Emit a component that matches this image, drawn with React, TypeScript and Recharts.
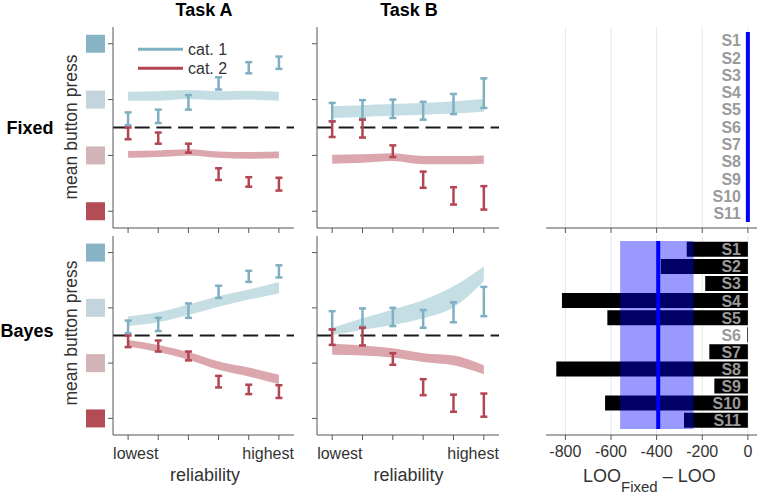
import React from "react";
import {
  ComposedChart,
  BarChart,
  Bar,
  Area,
  Scatter,
  ErrorBar,
  XAxis,
  YAxis,
  ReferenceLine,
  ReferenceArea,
  CartesianGrid,
} from "recharts";

const FONT = "'Liberation Sans', Arial, Helvetica, sans-serif";

// reliability levels (lowest .. highest) and button-press levels
const reliability = [1, 2, 3, 4, 5, 6];
const pressTicks = [1, 2, 3, 4];
const pressColors = ["#b44c55", "#d3b5b9", "#c3d4dd", "#88b4c6"];

// observed data (error bars), shared by both models
const taskABlueLo = [2.54, 2.58, 2.82, 3.18, 3.47, 3.55];
const taskABlueHi = [2.77, 2.82, 3.08, 3.4, 3.67, 3.77];
const taskARedLo = [2.29, 2.21, 2.05, 1.56, 1.44, 1.37];
const taskARedHi = [2.5, 2.41, 2.21, 1.77, 1.61, 1.6];
const taskBBlueLo = [2.61, 2.66, 2.67, 2.64, 2.74, 2.85];
const taskBBlueHi = [2.94, 2.99, 3.0, 2.96, 3.1, 3.38];
const taskBRedLo = [2.33, 2.32, 1.97, 1.42, 1.12, 1.03];
const taskBRedHi = [2.61, 2.64, 2.18, 1.71, 1.43, 1.45];

// model fits (bands)
const fixedABlueLo = [2.98, 2.98, 3.01, 2.99, 3.0, 2.98];
const fixedABlueHi = [3.14, 3.15, 3.17, 3.15, 3.16, 3.14];
const fixedARedLo = [1.96, 1.97, 2.0, 1.96, 1.94, 1.95];
const fixedARedHi = [2.08, 2.09, 2.11, 2.07, 2.06, 2.07];
const fixedBBlueLo = [2.67, 2.69, 2.71, 2.73, 2.75, 2.78];
const fixedBBlueHi = [2.88, 2.9, 2.92, 2.94, 2.97, 3.01];
const fixedBRedLo = [1.85, 1.87, 1.9, 1.84, 1.84, 1.85];
const fixedBRedHi = [2.01, 2.02, 2.04, 1.99, 1.99, 2.0];
const bayesABlueLo = [2.67, 2.74, 2.87, 3.02, 3.15, 3.26];
const bayesABlueHi = [2.85, 2.92, 3.06, 3.21, 3.33, 3.47];
const bayesARedLo = [2.3, 2.2, 2.06, 1.88, 1.76, 1.62];
const bayesARedHi = [2.42, 2.33, 2.2, 2.03, 1.92, 1.79];
const bayesBBlueLo = [2.51, 2.6, 2.69, 2.81, 3.01, 3.48];
const bayesBBlueHi = [2.64, 2.81, 2.97, 3.14, 3.39, 3.75];
const bayesBRedLo = [2.15, 2.14, 2.1, 2.02, 1.96, 1.8];
const bayesBRedHi = [2.35, 2.32, 2.27, 2.18, 2.14, 1.96];

// model comparison
const subjects = ["S1", "S2", "S3", "S4", "S5", "S6", "S7", "S8", "S9", "S10", "S11"];
const looFixed = [0, 0, 0, 0, 0, 0, 0, 0, 0, 0, 0];
const looBayes = [-268, -382, -187, -815, -616, -3, -169, -840, -147, -626, -280];
const looBayesMean = -393;
const looBayesCi = [-560, -238];
const looTicks = [-800, -600, -400, -200, 0];
const legendItems = ["cat. 1", "cat. 2"];

const BLUE_ERR = "#7fafc2";
const RED_ERR = "#b34652";
const BLUE_BAND = "#c5dee4";
const RED_BAND = "#dba6ac";
const AXIS = "#555";

function buildRows(bLo, bHi, rLo, rHi, obLo, obHi, orLo, orHi) {
  return reliability.map((r, i) => ({
    r,
    blueBand: [bLo[i], bHi[i]],
    redBand: [rLo[i], rHi[i]],
    blueMid: (obLo[i] + obHi[i]) / 2,
    blueErr: (obHi[i] - obLo[i]) / 2,
    redMid: (orLo[i] + orHi[i]) / 2,
    redErr: (orHi[i] - orLo[i]) / 2,
  }));
}

const fixedA = buildRows(fixedABlueLo, fixedABlueHi, fixedARedLo, fixedARedHi, taskABlueLo, taskABlueHi, taskARedLo, taskARedHi);
const fixedB = buildRows(fixedBBlueLo, fixedBBlueHi, fixedBRedLo, fixedBRedHi, taskBBlueLo, taskBBlueHi, taskBRedLo, taskBRedHi);
const bayesA = buildRows(bayesABlueLo, bayesABlueHi, bayesARedLo, bayesARedHi, taskABlueLo, taskABlueHi, taskARedLo, taskARedHi);
const bayesB = buildRows(bayesBBlueLo, bayesBBlueHi, bayesBRedLo, bayesBRedHi, taskBBlueLo, taskBBlueHi, taskBRedLo, taskBRedHi);

const EmptyShape = () => <g />;
const NoTick = () => <g />;

function SquareTick(props) {
  const { x, y, payload } = props;
  const idx = pressTicks.indexOf(payload.value);
  return <rect x={x - 19} y={y - 9} width={19} height={18} fill={pressColors[idx]} />;
}

function ReliabilityTick(props) {
  const { x, y, payload } = props;
  if (payload.value === reliability[0]) {
    return (
      <text x={x - 15} y={y} dy="0.71em" textAnchor="start" fill="#333" fontSize={16}>
        lowest
      </text>
    );
  }
  if (payload.value === reliability[reliability.length - 1]) {
    return (
      <text x={x + 15} y={y} dy="0.71em" textAnchor="end" fill="#333" fontSize={16}>
        highest
      </text>
    );
  }
  return <g />;
}

function PsychPanel({ data, left, top, width, height, margin, squares, xLabels }) {
  return (
    <div style={{ position: "absolute", left, top, width, height }}>
      <ComposedChart width={width} height={height} data={data} margin={margin}>
        <XAxis
          dataKey="r"
          type="number"
          domain={[0.5, 6.5]}
          ticks={reliability}
          height={xLabels ? 59 : 12}
          tickSize={5}
          tickMargin={8}
          stroke={AXIS}
          tick={xLabels ? <ReliabilityTick /> : <NoTick />}
        />
        <YAxis
          type="number"
          domain={[0.7, 4.3]}
          allowDataOverflow
          ticks={pressTicks}
          width={squares ? 40 : 10}
          tickSize={5}
          tickMargin={3}
          stroke={AXIS}
          tick={squares ? <SquareTick /> : <NoTick />}
        />
        <Area type="monotone" dataKey="blueBand" stroke="none" fill={BLUE_BAND} fillOpacity={1} isAnimationActive={false} dot={false} activeDot={false} />
        <Area type="monotone" dataKey="redBand" stroke="none" fill={RED_BAND} fillOpacity={1} isAnimationActive={false} dot={false} activeDot={false} />
        <ReferenceLine y={2.5} stroke="#1a1a1a" strokeWidth={2} strokeDasharray="15 6.7" />
        <Scatter dataKey="blueMid" shape={EmptyShape} isAnimationActive={false}>
          <ErrorBar dataKey="blueErr" direction="y" width={3.5} strokeWidth={2.5} stroke={BLUE_ERR} isAnimationActive={false} />
        </Scatter>
        <Scatter dataKey="redMid" shape={EmptyShape} isAnimationActive={false}>
          <ErrorBar dataKey="redErr" direction="y" width={3.5} strokeWidth={2.5} stroke={RED_ERR} isAnimationActive={false} />
        </Scatter>
      </ComposedChart>
    </div>
  );
}

function SubjectTick(props) {
  const { x, y, payload } = props;
  return (
    <text x={x} y={y} dy="0.36em" textAnchor="end" fill="#9a9a9a" fontSize={16} fontWeight="bold">
      {payload.value}
    </text>
  );
}

function LooPanel({ values, left, top, height, margin, xLabels, band, mean }) {
  const data = subjects.map((s, i) => ({ subject: s, diff: values[i] }));
  const halfLine = 8.8;
  return (
    <div style={{ position: "absolute", left, top, width: 240, height }}>
      <BarChart width={240} height={height} data={data} layout="vertical" margin={margin} barCategoryGap={0.8}>
        <CartesianGrid horizontal={false} verticalValues={looTicks} stroke="#e6e6e6" />
        <XAxis
          type="number"
          domain={[-885, 40]}
          allowDataOverflow
          ticks={looTicks}
          interval={0}
          height={xLabels ? 59 : 12}
          tickSize={5}
          tickMargin={6}
          stroke={AXIS}
          tick={xLabels ? { fill: "#333", fontSize: 16 } : <NoTick />}
        />
        <YAxis
          type="category"
          dataKey="subject"
          orientation="right"
          mirror
          width={40}
          interval={0}
          padding={{ top: 5, bottom: 6 }}
          axisLine={false}
          tickLine={false}
          stroke="none"
          tickSize={0}
          tickMargin={16}
          tick={<SubjectTick />}
        />
        <Bar dataKey="diff" fill="#000" isAnimationActive={false} />
        {band && (
          <ReferenceArea
            x1={band[0]}
            x2={band[1]}
            y1={subjects[0]}
            y2={subjects[subjects.length - 1]}
            fill="#0000ff"
            fillOpacity={0.4}
            stroke="none"
            zIndex={700}
          />
        )}
        <ReferenceArea
          x1={mean - halfLine}
          x2={mean + halfLine}
          y1={subjects[0]}
          y2={subjects[subjects.length - 1]}
          fill="#0000ff"
          fillOpacity={1}
          stroke="none"
          ifOverflow="visible"
          zIndex={710}
        />
      </BarChart>
    </div>
  );
}

export default function App() {
  return (
    <div
      style={{
        position: "absolute",
        left: 0,
        top: 0,
        width: 760,
        height: 494,
        background: "#fff",
        fontFamily: FONT,
        overflow: "hidden",
      }}
    >
      <PsychPanel data={fixedA} left={0} top={0} width={300} height={240} margin={{ top: 27, right: 6, left: 73, bottom: 0 }} squares xLabels={false} />
      <PsychPanel data={fixedB} left={290} top={0} width={215} height={240} margin={{ top: 27, right: 6, left: 17, bottom: 0 }} squares={false} xLabels={false} />
      <PsychPanel data={bayesA} left={0} top={230} width={300} height={264} margin={{ top: 6, right: 6, left: 73, bottom: 0 }} squares xLabels />
      <PsychPanel data={bayesB} left={290} top={230} width={215} height={264} margin={{ top: 6, right: 6, left: 17, bottom: 0 }} squares={false} xLabels />
      <LooPanel values={looFixed} left={520} top={0} height={240} margin={{ top: 27, right: 3, left: 26, bottom: 0 }} xLabels={false} band={null} mean={0} />
      <LooPanel values={looBayes} left={520} top={230} height={264} margin={{ top: 6, right: 3, left: 26, bottom: 0 }} xLabels band={looBayesCi} mean={looBayesMean} />

      <svg width={760} height={494} style={{ position: "absolute", left: 0, top: 0, pointerEvents: "none" }}>
        <g fontFamily={FONT}>
          <text x={204} y={16} textAnchor="middle" fontSize={18} fontWeight="bold" fill="#000">Task A</text>
          <text x={409} y={16} textAnchor="middle" fontSize={18} fontWeight="bold" fill="#000">Task B</text>
          <text x={53.5} y={133.5} textAnchor="end" fontSize={18} fontWeight="bold" fill="#000">Fixed</text>
          <text x={53.5} y={337} textAnchor="end" fontSize={18} fontWeight="bold" fill="#000">Bayes</text>
          <text transform="translate(76.5,127) rotate(-90)" textAnchor="middle" fontSize={17.5} fill="#333">mean button press</text>
          <text transform="translate(76.5,333) rotate(-90)" textAnchor="middle" fontSize={17.5} fill="#333">mean button press</text>
          <line x1={138} x2={183} y1={49.3} y2={49.3} stroke={BLUE_ERR} strokeWidth={3} />
          <text x={188} y={55} fontSize={16} fill="#333">{legendItems[0]}</text>
          <line x1={138} x2={183} y1={68.3} y2={68.3} stroke={RED_ERR} strokeWidth={3} />
          <text x={188} y={74} fontSize={16} fill="#333">{legendItems[1]}</text>
          <text x={205} y={481} textAnchor="middle" fontSize={18} fill="#333">reliability</text>
          <text x={408.5} y={481} textAnchor="middle" fontSize={18} fill="#333">reliability</text>
          <text x={583} y={482} fontSize={18} fill="#333">
            LOO
            <tspan fontSize={15} dy={10}>Fixed</tspan>
            <tspan dy={-10}> – LOO</tspan>
          </text>
        </g>
      </svg>
    </div>
  );
}
